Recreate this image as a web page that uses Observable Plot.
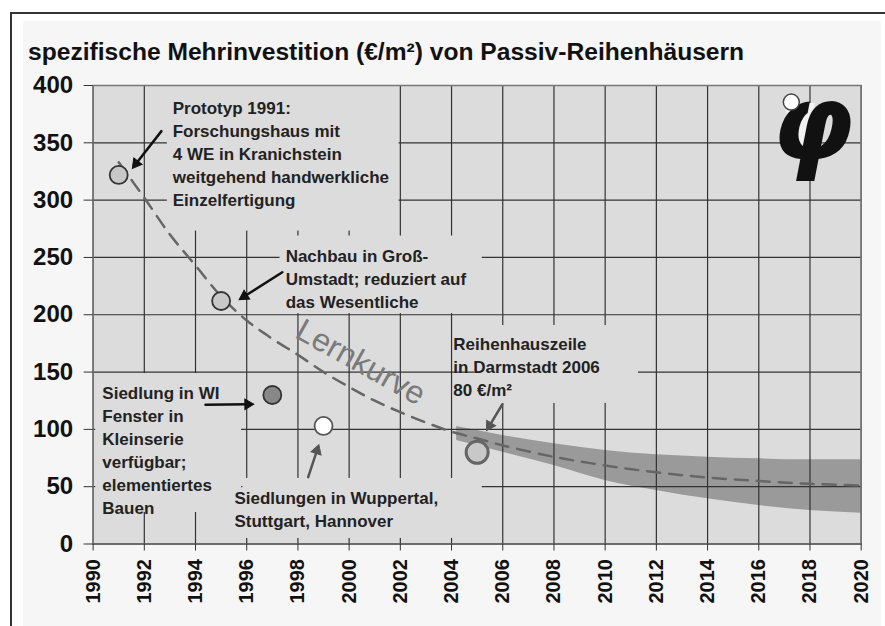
<!DOCTYPE html>
<html>
<head>
<meta charset="utf-8">
<script src="https://cdn.jsdelivr.net/npm/d3@7"></script>
<script src="https://cdn.jsdelivr.net/npm/@observablehq/plot@0.6"></script>
<style>
  html, body { margin: 0; padding: 0; background: #fff; }
  #wrap { position: relative; width: 885px; height: 626px; overflow: hidden; background: #fff; }
  #border { position: absolute; left: 10px; top: 12px; width: 880px; height: 620px; border-top: 2px solid #333; border-left: 2px solid #333; }
  #panel { position: absolute; left: 23px; top: 21px; width: 858px; height: 610px; background: #f6f6f6; }
  #title { position: absolute; left: 28px; top: 40px; font: bold 24.6px "Liberation Sans", Arial, sans-serif; line-height: 24px; color: #111; white-space: nowrap; }
  #chart { position: absolute; left: 0; top: 0; }
</style>
</head>
<body>
<div id="wrap">
  <div id="border"></div>
  <div id="panel"></div>
  <div id="title">spezifische Mehrinvestition (€/m²) von Passiv-Reihenhäusern</div>
  <div id="chart"></div>
</div>
<script>
// ---- data ----
const xTicks = [1990, 1992, 1994, 1996, 1998, 2000, 2002, 2004, 2006, 2008, 2010, 2012, 2014, 2016, 2018, 2020];
const yTicks = [0, 50, 100, 150, 200, 250, 300, 350, 400];

const pointYears = [1991, 1995, 1997, 1999, 2005];
const pointCosts = [322, 212, 130, 103, 80];

const curveYears = [1991, 1992, 1993, 1994, 1995, 1996, 1997, 1998, 1999, 2000, 2001, 2002, 2003, 2004, 2005, 2006, 2008, 2010, 2012, 2014, 2016, 2018, 2020];
const curveCosts = [333, 302, 270, 243, 216, 195, 179, 165, 150, 137, 125, 115, 106, 98, 92, 86, 76, 68.5, 62.5, 58, 55, 52.5, 51];

const bandYears = [2004.2, 2006, 2008, 2010, 2012, 2014, 2016, 2018, 2020];
const bandHigh = [102.5, 94.7, 87.4, 81.6, 77.8, 75.7, 74.3, 73.4, 73.4];
const bandLow = [90.3, 80.1, 68.5, 55.4, 46.7, 39.4, 33.6, 29.2, 26.9];

const noteTexts = [
  "Prototyp 1991:\nForschungshaus mit\n4 WE in Kranichstein\nweitgehend handwerkliche\nEinzelfertigung",
  "Nachbau in Groß-\nUmstadt; reduziert auf\ndas Wesentliche",
  "Siedlung in WI\nFenster in\nKleinserie\nverfügbar;\nelementiertes\nBauen",
  "Siedlungen in Wuppertal,\nStuttgart, Hannover",
  "Reihenhauszeile\nin Darmstadt 2006\n80 €/m²"
];
const noteX = [1993.11, 1997.52, 1990.36, 1995.52, 2004.07];
const noteY = [389.3, 260.4, 140.6, 49.0, 183.4];

// label boxes (hide the grid behind the labels)
const boxX1 = [1992.9, 1997.3, 1990.1, 1995.85, 2004.9];
const boxX2 = [2001.95, 2005.2, 1995.8, 2005.2, 2011.3];
const boxY1 = [273, 201, 27.5, 4.8, 122.6];
const boxY2 = [400, 268.7, 148.7, 57.2, 190.6];

const arrowX1 = [1992.67, 1997.39, 1994.39, 1998.40, 2005.98];
const arrowY1 = [360.2, 237.1, 121.5, 58.3, 121.7];
const arrowX2 = [1991.49, 1995.65, 1996.35, 1998.84, 2005.33];
const arrowY2 = [326.5, 212.4, 122.0, 88.0, 97.5];

const curveLabel = "Lernkurve";
const curveLabelX = 2000.45;
const curveLabelY = 158.5;

const logoGlyph = "φ";
const logoX = 2018.1;
const logoY = 365;
const logoDotX = 2017.27;
const logoDotY = 385.5;
const logoTriY = [384.3, 339];
const logoTriX1 = [2016.97, 2017.65];
const logoTriX2 = [2018.22, 2017.65];

// ---- styles ----
const BG = "#dcdcdc";
const pointFills = ["#c8c8c8", "#c8c8c8", "#888888", "#ffffff", "#c8c8c8"];
const pointStrokes = ["#333", "#333", "#333", "#555", "#666"];
const pointR = [9, 9, 9, 9, 11];
const pointSW = [1.8, 1.8, 1.8, 1.8, 3];
const arrowColors = ["#111", "#111", "#111", "#555", "#555"];
const headTip = 7.8; // px from triangle centre to its tip (r = 5)

const W = 885, H = 626;
const M = { marginLeft: 92.6, marginRight: 24.3, marginTop: 85, marginBottom: 82.5 };
const xDom = [1990, 2020], yDom = [0, 400];

const idx = (n) => d3.range(n);
const band = idx(bandYears.length);
const curve = idx(curveYears.length);
const pts = idx(pointYears.length);
const notes = idx(noteTexts.length);

// probe the scales to orient the arrow heads
const probe = Plot.plot({ width: W, height: H, ...M, x: { domain: xDom }, y: { domain: yDom }, marks: [Plot.frame()] });
const sx = probe.scale("x"), sy = probe.scale("y");
const headMarks = notes.map(i => {
  const px1 = sx.apply(arrowX1[i]), py1 = sy.apply(arrowY1[i]);
  const px2 = sx.apply(arrowX2[i]), py2 = sy.apply(arrowY2[i]);
  const L = Math.hypot(px2 - px1, py2 - py1);
  const ux = (px2 - px1) / L, uy = (py2 - py1) / L;
  const ang = Math.atan2(ux, -uy) * 180 / Math.PI;
  return Plot.dot([i], { x: arrowX2[i], y: arrowY2[i], symbol: "triangle2", r: 5, fill: arrowColors[i], stroke: arrowColors[i], strokeWidth: 1, rotate: ang, dx: -ux * headTip, dy: -uy * headTip });
});

const chart = Plot.plot({
  width: W,
  height: H,
  ...M,
  x: { domain: xDom },
  y: { domain: yDom },
  r: { type: "identity" },
  style: { background: "transparent", fontFamily: "'Liberation Sans', Arial, sans-serif", fontWeight: "bold", color: "#111" },
  marks: [
    Plot.frame({ fill: BG, stroke: null }),
    Plot.areaY(band, { x: i => bandYears[i], y1: i => bandLow[i], y2: i => bandHigh[i], fill: "#9a9a9a", curve: "monotone-x" }),
    Plot.ruleX(xTicks, { stroke: "#333", strokeWidth: 1.2 }),
    Plot.ruleY(yTicks, { stroke: "#333", strokeWidth: 1.2 }),
    Plot.rect(notes, { x1: i => boxX1[i], x2: i => boxX2[i], y1: i => boxY1[i], y2: i => boxY2[i], fill: BG }),
    Plot.ruleY([0], { stroke: "#333", strokeWidth: 1.5 }),
    Plot.frame({ stroke: "#777", strokeWidth: 1.5 }),
    Plot.axisX(xTicks, { tickSize: 7, tickPadding: 8, tickRotate: -90, fontSize: 20, fontWeight: "bold", tickFormat: d => String(d), label: null, stroke: "#333" }),
    Plot.axisY(yTicks, { tickSize: 9, tickPadding: 11, fontSize: 24, fontWeight: "bold", tickFormat: d => String(d), label: null, stroke: "#333" }),
    Plot.line(curve, { x: i => curveYears[i], y: i => curveCosts[i], stroke: "#666", strokeWidth: 2.5, strokeDasharray: "13,9", curve: "catmull-rom" }),
    Plot.dot(pts, { x: i => pointYears[i], y: i => pointCosts[i], r: i => pointR[i], fill: i => pointFills[i], stroke: i => pointStrokes[i], strokeWidth: i => pointSW[i] }),
    Plot.text([curveLabel], { x: curveLabelX, y: curveLabelY, text: d => d, rotate: 29, fontSize: 32, fontWeight: "normal", fill: "#7a7a7a" }),
    Plot.text(notes, { x: i => noteX[i], y: i => noteY[i], text: i => noteTexts[i], textAnchor: "start", lineAnchor: "top", fontSize: 17, fontWeight: "bold", lineHeight: 1.35, fill: "#222" }),
    Plot.arrow(notes, { x1: i => arrowX1[i], y1: i => arrowY1[i], x2: i => arrowX2[i], y2: i => arrowY2[i], stroke: i => arrowColors[i], strokeWidth: 2.5, headLength: 0, insetEnd: 8 }),
    ...headMarks,
    // logo
    Plot.areaX([0, 1], { y: i => logoTriY[i], x1: i => logoTriX1[i], x2: i => logoTriX2[i], fill: "#f2f2f2" }),
    Plot.text([logoGlyph], { x: logoX, y: logoY, text: d => d, fontSize: 105, fontFamily: "DejaVu Sans", fontStyle: "oblique", fontWeight: "bold", fill: "#111" }),
    Plot.dot([0], { x: logoDotX, y: logoDotY, r: 8, fill: "#fff", stroke: "#444", strokeWidth: 1.5 })
  ]
});
document.getElementById("chart").appendChild(chart);
</script>
</body>
</html>
